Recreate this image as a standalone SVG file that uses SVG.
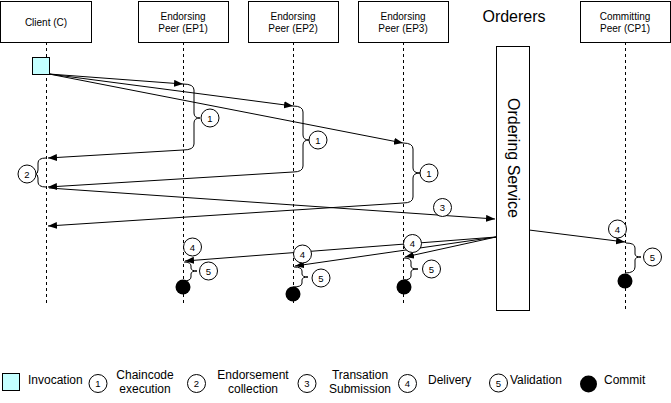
<svg xmlns="http://www.w3.org/2000/svg" width="671" height="403" viewBox="0 0 671 403">
<style>
text{font-family:"Liberation Sans",Arial,Helvetica,sans-serif;fill:#000}
.hdr{font-size:10px;text-anchor:middle}
.box{fill:#fff;stroke:#000;stroke-width:1}
.life{stroke:#000;stroke-width:1;stroke-dasharray:3 3;fill:none}
.ln{stroke:#000;stroke-width:1;fill:none}
.arr{stroke:#000;stroke-width:1;fill:none;marker-end:url(#ah)}
.brace{stroke:#000;stroke-width:1;fill:none}
.num{fill:#fff;stroke:#000;stroke-width:1}
.nt{font-size:9.5px;text-anchor:middle;dominant-baseline:central}
.leg{font-size:12px}
.legc{font-size:12px;text-anchor:middle}
.dot{fill:#000}
</style>
<defs>
<marker id="ah" markerUnits="userSpaceOnUse" markerWidth="10" markerHeight="8" refX="9" refY="3.5" orient="auto">
<path d="M0,0 L9,3.5 L0,7 z" fill="#000"/>
</marker>
</defs>
<rect width="671" height="403" fill="#fff"/>

<g id="lifelines">
<line class="life" x1="46.5" y1="42" x2="46.5" y2="303"/>
<line class="life" x1="183.5" y1="42" x2="183.5" y2="303"/>
<line class="life" x1="293.5" y1="42" x2="293.5" y2="303"/>
<line class="life" x1="403.5" y1="42" x2="403.5" y2="303"/>
<line class="life" x1="625.5" y1="42" x2="625.5" y2="310"/>
</g>

<g id="client">
<rect class="box" x="0.5" y="1.5" width="91" height="41"/>
<text class="hdr" x="46" y="26">Client (C)</text>
</g>
<g id="ep1">
<rect class="box" x="138.5" y="1.5" width="90" height="41"/>
<text class="hdr" x="183" y="20">Endorsing</text>
<text class="hdr" x="183" y="32">Peer (EP1)</text>
</g>
<g id="ep2">
<rect class="box" x="248.5" y="1.5" width="90" height="41"/>
<text class="hdr" x="293" y="20">Endorsing</text>
<text class="hdr" x="293" y="32">Peer (EP2)</text>
</g>
<g id="ep3">
<rect class="box" x="358.5" y="1.5" width="90" height="41"/>
<text class="hdr" x="403" y="20">Endorsing</text>
<text class="hdr" x="403" y="32">Peer (EP3)</text>
</g>
<g id="orderers">
<text x="514" y="22" style="font-size:16px;text-anchor:middle">Orderers</text>
</g>
<g id="ordering-service">
<rect class="box" x="496.5" y="46.5" width="33" height="264"/>
<text x="513" y="158" transform="rotate(90 513 158)" style="font-size:16px;text-anchor:middle;dominant-baseline:central">Ordering Service</text>
</g>
<g id="cp1">
<rect class="box" x="580.5" y="1.5" width="90" height="41"/>
<text class="hdr" x="625" y="20">Committing</text>
<text class="hdr" x="625" y="32">Peer (CP1)</text>
</g>

<g id="invocation">
<rect x="32.5" y="57.5" width="17" height="17" fill="#c4ffff" stroke="#000"/>
</g>

<g id="connectors">
<line class="arr" x1="49" y1="74" x2="183" y2="84"/>
<line class="arr" x1="49" y1="74" x2="293" y2="106"/>
<line class="arr" x1="49" y1="74" x2="403" y2="143"/>
<path class="brace" d="M183,84 Q194,84 194,90 L194,113 Q194,118 200,118 Q194,118 194,123 L194,144 Q194,150 183,150"/>
<path class="brace" d="M293,106 Q303,106 303,112 L303,135 Q303,140 309,140 Q303,140 303,145 L303,166 Q303,172 293,172"/>
<path class="brace" d="M403,143 Q413,143 413,149 L413,168 Q413,173 420,173 Q413,173 413,178 L413,197 Q413,203 403,203"/>
<line class="arr" x1="183" y1="150" x2="48" y2="158"/>
<line class="arr" x1="293" y1="172" x2="48" y2="187"/>
<line class="arr" x1="403" y1="203" x2="48" y2="226"/>
<path class="brace" d="M46,158 Q38,158 38,163 L38,170 Q38,174 35,174 Q38,174 38,178 L38,182 Q38,187 46,187"/>
<line class="arr" x1="49" y1="188" x2="495" y2="219"/>
<line class="arr" x1="496" y1="237" x2="185" y2="261"/>
<line class="arr" x1="496" y1="237" x2="295" y2="266"/>
<line class="arr" x1="496" y1="237" x2="405" y2="257"/>
<line class="arr" x1="529" y1="230" x2="625" y2="242"/>
<path class="brace" d="M184,262 Q191,262 191,266 L191,268 Q191,271 197,271 Q191,271 191,274 L191,277 Q191,281 183,281"/>
<path class="brace" d="M294,267 Q302,267 302,271 L302,274 Q302,277 308,277 Q302,277 302,280 L302,283 Q302,287 293,287"/>
<path class="brace" d="M404,258 Q411,258 411,262 L411,266 Q411,269 418,269 Q411,269 411,272 L411,276 Q411,280 403,280"/>
<path class="brace" d="M626,243 Q635,243 635,248 L635,254 Q635,257 641,257 Q635,257 635,260 L635,267 Q635,273 625,273"/>
</g>

<g id="labels">
<circle class="num" cx="210" cy="118" r="9"/><text class="nt" x="210" y="118">1</text>
<circle class="num" cx="318" cy="140" r="9"/><text class="nt" x="318" y="140">1</text>
<circle class="num" cx="429" cy="173" r="9"/><text class="nt" x="429" y="173">1</text>
<circle class="num" cx="27" cy="174" r="9"/><text class="nt" x="27" y="174">2</text>
<circle class="num" cx="442.5" cy="207.5" r="9"/><text class="nt" x="442.5" y="207.5">3</text>
<circle class="num" cx="192.5" cy="247" r="9"/><text class="nt" x="192.5" y="247">4</text>
<circle class="num" cx="302.5" cy="254" r="9"/><text class="nt" x="302.5" y="254">4</text>
<circle class="num" cx="412.5" cy="243.5" r="9"/><text class="nt" x="412.5" y="243.5">4</text>
<circle class="num" cx="617.5" cy="229" r="9"/><text class="nt" x="617.5" y="229">4</text>
<circle class="num" cx="208.5" cy="271" r="9"/><text class="nt" x="208.5" y="271">5</text>
<circle class="num" cx="321" cy="278" r="9"/><text class="nt" x="321" y="278">5</text>
<circle class="num" cx="431.5" cy="269" r="9"/><text class="nt" x="431.5" y="269">5</text>
<circle class="num" cx="652.5" cy="257" r="9"/><text class="nt" x="652.5" y="257">5</text>
</g>

<g id="commits">
<circle class="dot" cx="183" cy="287" r="7.5"/>
<circle class="dot" cx="293" cy="294" r="7.5"/>
<circle class="dot" cx="404" cy="287" r="7.5"/>
<circle class="dot" cx="625" cy="281" r="7.5"/>
</g>

<g id="legend">
<rect x="2.5" y="373.5" width="17" height="17" fill="#c4ffff" stroke="#000"/>
<text class="leg" x="28" y="384">Invocation</text>
<circle class="num" cx="98" cy="383.5" r="9"/><text class="nt" x="98" y="383.5">1</text>
<text class="legc" x="145" y="379">Chaincode</text>
<text class="legc" x="145" y="393">execution</text>
<circle class="num" cx="196.5" cy="383.5" r="9"/><text class="nt" x="196.5" y="383.5">2</text>
<text class="legc" x="253" y="379">Endorsement</text>
<text class="legc" x="253" y="393">collection</text>
<circle class="num" cx="307" cy="383.5" r="9"/><text class="nt" x="307" y="383.5">3</text>
<text class="legc" x="360" y="379">Transation</text>
<text class="legc" x="360" y="393">Submission</text>
<circle class="num" cx="407.5" cy="383.5" r="9"/><text class="nt" x="407.5" y="383.5">4</text>
<text class="leg" x="428" y="384">Delivery</text>
<circle class="num" cx="498.5" cy="383" r="9"/><text class="nt" x="498.5" y="383">5</text>
<text class="leg" x="510" y="384">Validation</text>
<circle class="dot" cx="588.5" cy="384" r="8.5"/>
<text class="leg" x="604" y="384">Commit</text>
</g>
</svg>
